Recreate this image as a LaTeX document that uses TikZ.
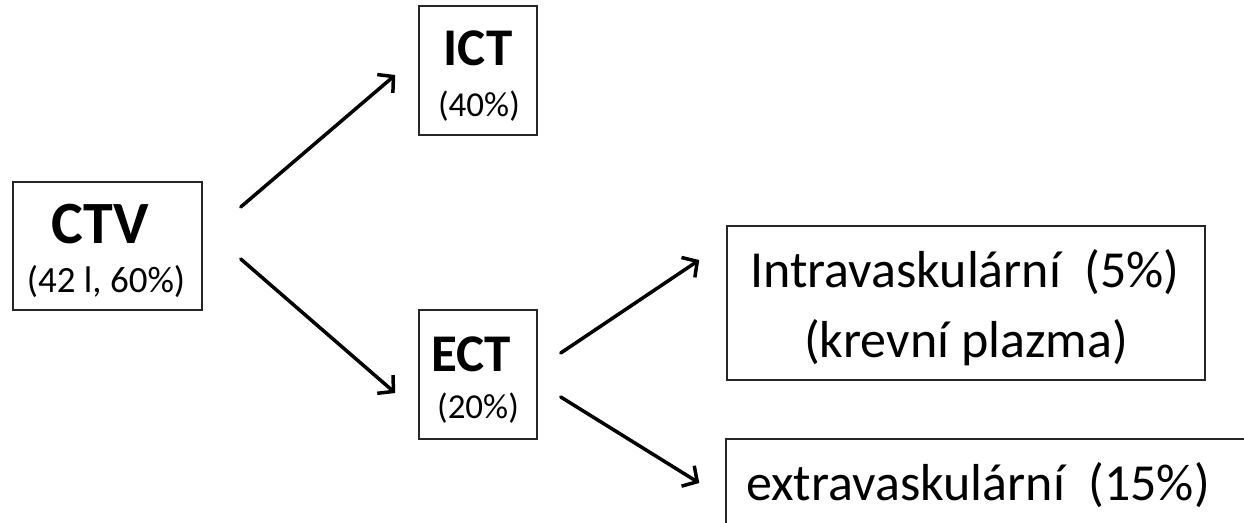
\documentclass[tikz,border=0pt]{standalone}
\usepackage{fontspec}
\setmainfont{Carlito}
\usetikzlibrary{arrows.meta,calc}
\tikzset{
  box/.style={draw=black!85, line width=1.5pt, inner sep=0pt},
  lbl/.style={anchor=base, inner sep=0pt, text=black},
  conn/.style={line width=3.5pt, -{Straight Barb[length=11pt,width=24pt]}, line cap=round}
}
\begin{document}
\begin{tikzpicture}[x=1pt,y=-1pt]
\clip (0,0) rectangle (1244,522);
\fill[white] (0,0) rectangle (1244,522);
% boxes
\node[box, minimum width=189pt, minimum height=128pt] (ctv) at (107.5,246) {};
\node[box, minimum width=118pt, minimum height=129pt] (ict) at (478,70.5) {};
\node[box, minimum width=118pt, minimum height=129pt] (ect) at (478,374.5) {};
\node[box, minimum width=478pt, minimum height=154pt] (intra) at (966,303) {};
\node[box, minimum width=534pt, minimum height=101pt] (extra) at (993,489.5) {};
% texts
\node[lbl, font=\fontsize{60}{66}\selectfont\bfseries] (ctvt) at (100,243) {CTV};
\node[lbl, font=\fontsize{37}{44}\selectfont] (ctvs) at (106,292) {(42 l, 60\%)};
\node[lbl, font=\fontsize{53}{60}\selectfont\bfseries] (ictt) at (478,65) {ICT};
\node[lbl, font=\fontsize{35}{42}\selectfont] (icts) at (479,116) {(40\%)};
\node[lbl, font=\fontsize{53}{60}\selectfont\bfseries] (ectt) at (471,371) {ECT};
\node[lbl, font=\fontsize{35}{42}\selectfont] (ects) at (478,418) {(20\%)};
\node[lbl, font=\fontsize{52}{60}\selectfont] (intrat) at (965,287) {Intravaskulární~ (5\%)};
\node[lbl, font=\fontsize{52}{60}\selectfont] (intras) at (966,357) {(krevní plazma)};
\node[lbl, font=\fontsize{52}{60}\selectfont] (extrat) at (978,500) {extravaskulární~ (15\%)};
% connectors
\draw[conn] ($(ctv.east)+(38,-39)$) -- ($(ict.west)+(-23,4.5)$);
\draw[conn] ($(ctv.east)+(38,13)$) -- ($(ect.west)+(-23,18.5)$);
\draw[conn] ($(ect.east)+(23,-21.5)$) -- ($(intra.west)+(-27,-43)$);
\draw[conn] ($(ect.east)+(23,22.5)$) -- ($(extra.west)+(-26,-6.5)$);
\end{tikzpicture}
\end{document}
